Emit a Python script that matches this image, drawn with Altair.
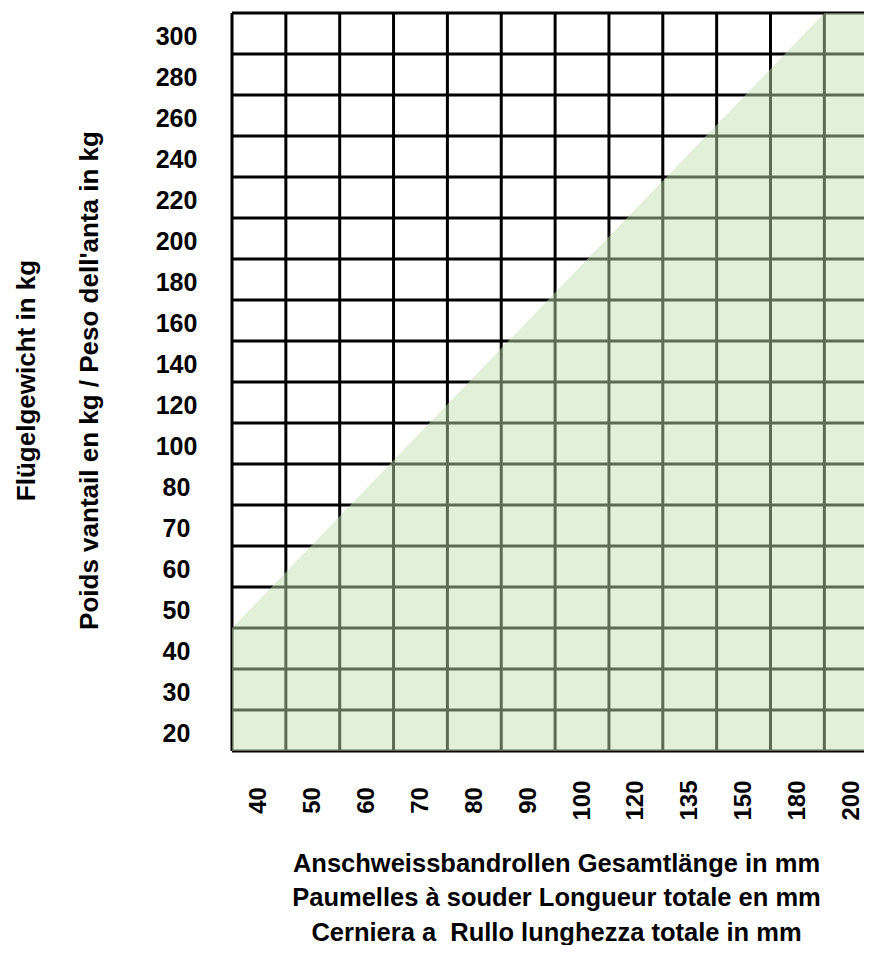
import altair as alt
import pandas as pd

# Categories (columns = total hinge length in mm, rows = leaf weight in kg)
x_labels = ["40", "50", "60", "70", "80", "90", "100", "120", "135", "150", "180", "200"]
y_labels = ["20", "30", "40", "50", "60", "70", "80", "100", "120", "140", "160",
            "180", "200", "220", "240", "260", "280", "300"]

# Boundary of the permitted (green) zone, in column-edge / row-edge index units
zone_x = [0, 11, 12]
zone_y = [3, 18, 18]

x_title = ["Anschweissbandrollen Gesamtlänge in mm",
           "Paumelles à souder Longueur totale en mm",
           "Cerniera a\u00a0 Rullo lunghezza totale in mm"]
y_title = ["Flügelgewicht in kg",
           "Poids vantail en kg / Peso dell'anta in kg"]

nx, ny = len(x_labels), len(y_labels)
W, H = 632, 738
cell_w = 53.85
x_max = W / cell_w

vlines = pd.DataFrame({"x": [i for i in range(nx + 1) if i <= x_max]})
hlines = pd.DataFrame({"y": list(range(ny + 1))})
zone = pd.DataFrame({"x": zone_x, "y": zone_y, "y0": [0] * len(zone_x)})

FONT = "Liberation Sans"

xscale = alt.Scale(domain=[0, x_max], nice=False, zero=False)
yscale = alt.Scale(domain=[0, ny], nice=False, zero=False)

x_expr = "[" + ",".join("'%s'" % s for s in x_labels) + "][floor(datum.value)]"
y_expr = "[" + ",".join("'%s'" % s for s in y_labels) + "][floor(datum.value)]"

x_axis = alt.Axis(
    values=[i + 0.5 for i in range(nx)], labelExpr=x_expr,
    labelAngle=270, labelAlign="center", labelBaseline="middle",
    labelPadding=49, labelOffset=0, ticks=False, domain=False, grid=False,
    labelFlush=False, labelOverlap=False,
    labelFont=FONT, labelFontWeight="bold", labelFontSize=24, labelColor="black",
    title=x_title, titleFont=FONT, titleFontWeight="bold", titleFontSize=25.5,
    titleColor="black", titleLineHeight=34.5, titleBaseline="alphabetic",
    titleAlign="center", titleX=324, titleY=120,
)
y_axis = alt.Axis(
    values=[i + 0.5 for i in range(ny)], labelExpr=y_expr,
    labelAlign="center", labelBaseline="middle", labelPadding=56, labelOffset=3,
    ticks=False, domain=False, grid=False, labelFlush=False, labelOverlap=False,
    labelFont=FONT, labelFontWeight="bold", labelFontSize=25, labelColor="black",
    title=y_title, titleFont=FONT, titleFontWeight="bold", titleFontSize=26,
    titleColor="black", titleLineHeight=63, titleAngle=270, titleBaseline="alphabetic",
    titleAlign="center", titleX=-198, titleY=367,
)

v = alt.Chart(vlines).mark_rule(color="black", strokeWidth=3).encode(
    x=alt.X("x:Q", scale=xscale, axis=x_axis)
)
h = alt.Chart(hlines).mark_rule(color="black", strokeWidth=3).encode(
    y=alt.Y("y:Q", scale=yscale, axis=y_axis)
)
area = alt.Chart(zone).mark_area(color="#c3deb0", opacity=0.48, clip=True).encode(
    x=alt.X("x:Q", scale=xscale, axis=x_axis),
    y=alt.Y("y:Q", scale=yscale, axis=y_axis),
    y2="y0:Q",
)

chart = alt.layer(v, h, area).properties(
    width=W, height=H,
    autosize=alt.AutoSizeParams(type="none"),
    padding={"left": 224, "top": 5, "right": 0, "bottom": 194},
    background="white",
).configure_view(stroke=None)

chart.save("out.html", embed_options={"renderer": "svg", "actions": False})
